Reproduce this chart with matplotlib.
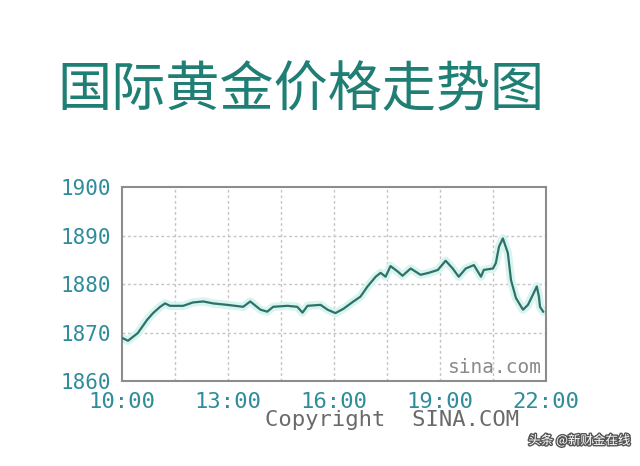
import matplotlib
matplotlib.use("Agg")
import matplotlib.pyplot as plt
import matplotlib.patheffects as pe

title = "国际黄金价格走势图"
hours = [10.03, 10.17, 10.45, 10.71, 10.88, 11.08, 11.22, 11.36, 11.73, 12.01,
         12.30, 12.58, 12.98, 13.43, 13.63, 13.92, 14.11, 14.28, 14.68, 14.96,
         15.11, 15.25, 15.62, 15.82, 16.04, 16.27, 16.55, 16.75, 16.95, 17.18,
         17.32, 17.46, 17.60, 17.80, 17.94, 18.17, 18.45, 18.68, 18.94, 19.16,
         19.36, 19.53, 19.73, 19.96, 20.16, 20.24, 20.50, 20.58, 20.67, 20.78,
         20.92, 21.01, 21.15, 21.35, 21.49, 21.63, 21.74, 21.80, 21.83, 21.92]
prices = [1868.8, 1868.3, 1869.9, 1872.6, 1874.0, 1875.3, 1876.0, 1875.5, 1875.5, 1876.2,
          1876.4, 1876.0, 1875.7, 1875.3, 1876.4, 1874.7, 1874.3, 1875.3, 1875.5, 1875.3,
          1874.1, 1875.5, 1875.7, 1874.7, 1874.0, 1874.9, 1876.4, 1877.4, 1879.5, 1881.5,
          1882.3, 1881.5, 1883.7, 1882.6, 1881.7, 1883.2, 1881.9, 1882.3, 1882.9, 1884.8,
          1883.2, 1881.5, 1883.2, 1883.9, 1881.5, 1882.9, 1883.2, 1884.3, 1887.7, 1889.4,
          1886.4, 1880.8, 1877.1, 1874.7, 1875.7, 1877.8, 1879.5, 1877.4, 1875.3, 1874.3]
yticks = [1860, 1870, 1880, 1890, 1900]
xticks = [10, 13, 16, 19, 22]
xlabels = ["10:00", "13:00", "16:00", "19:00", "22:00"]
xgrid = [11.5, 13, 14.5, 16, 17.5, 19, 20.5]

fig = plt.figure(figsize=(6.4, 4.66), dpi=100)
fig.patch.set_facecolor("white")
ax = fig.add_axes([0.1906, 0.1824, 0.6625, 0.4163])
ax.set_xlim(10, 22)
ax.set_ylim(1860, 1900)

for g in xgrid:
    ax.axvline(g, color="#c4c4c4", lw=1.0, ls=(0, (2, 2)), zorder=1)
for g in yticks[1:-1]:
    ax.axhline(g, color="#c4c4c4", lw=1.0, ls=(0, (2, 2)), zorder=1)

ax.plot(hours, prices, color="#d8f4f0", lw=6, zorder=2, solid_capstyle="round")
ax.plot(hours, prices, color="#2e7166", lw=1.6, zorder=3)

for s in ax.spines.values():
    s.set_color("#8c8c8c")
    s.set_linewidth(1.5)

mono = "DejaVu Sans Mono"
tick_col = "#2f8c9c"
ax.set_yticks(yticks)
ax.set_yticklabels([str(v) for v in yticks], fontsize=15, family=mono, color=tick_col)
ax.set_xticks(xticks)
ax.set_xticklabels(xlabels, fontsize=16, family=mono, color=tick_col)
ax.tick_params(length=0, pad=8)

ax.text(0.99, 0.02, "sina.com", transform=ax.transAxes, ha="right", va="bottom",
        fontsize=14, family=mono, color="#8a8a8a")

fig.text(0.612, 0.098, "Copyright  SINA.COM", ha="center", va="center",
         fontsize=16, family=mono, color="#6a6a6a")

fig.text(0.09, 0.805, title, ha="left", va="center", fontsize=39,
         family=["Noto Sans CJK SC", "DejaVu Sans"], color="#1f7f74")

fig.text(0.985, 0.055, "头条 @新财金在线", ha="right", va="center", fontsize=9,
         family=["Noto Sans CJK SC", "DejaVu Sans"], color="white",
         path_effects=[pe.withStroke(linewidth=2, foreground="#555555")])

fig.savefig("out.png", dpi=100, facecolor="white")
